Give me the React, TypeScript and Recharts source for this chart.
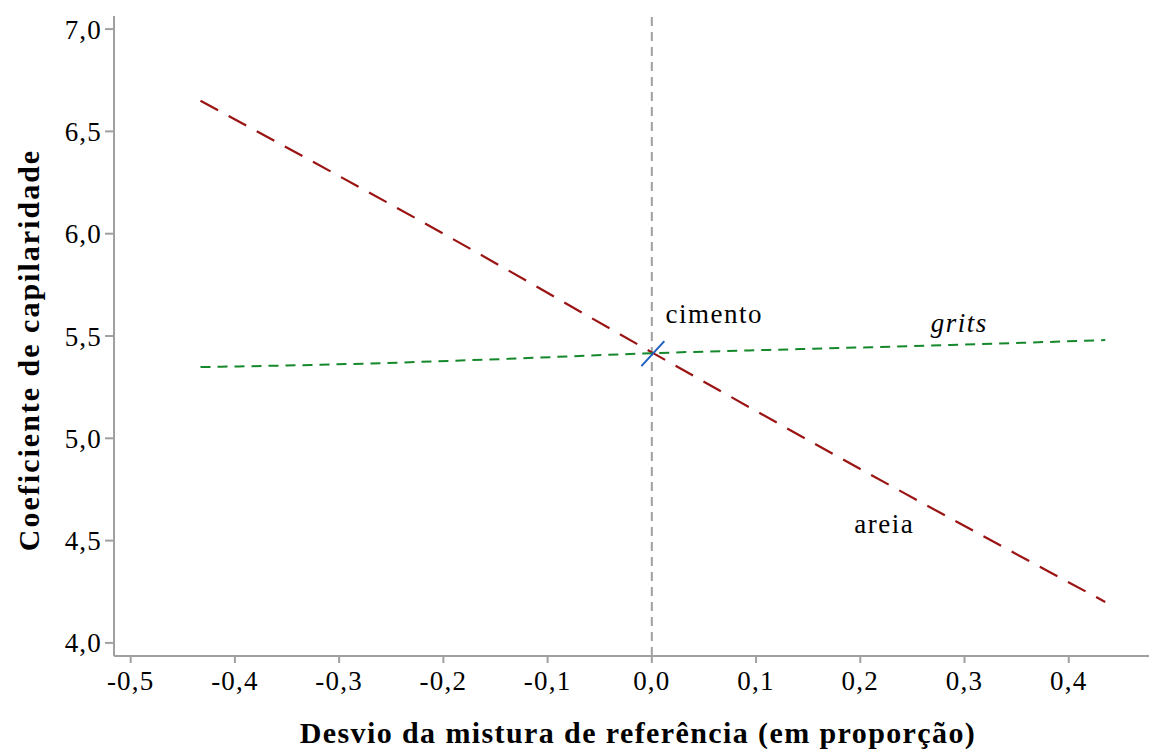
import {
  LineChart, Line, XAxis, YAxis, ReferenceLine, ReferenceDot, Label,
} from 'recharts'

// leituras do gráfico original
const xTicks = [-0.5, -0.4, -0.3, -0.2, -0.1, 0, 0.1, 0.2, 0.3, 0.4]
const yTicks = [4.0, 4.5, 5.0, 5.5, 6.0, 6.5, 7.0]

const areiaX = [-0.433, -0.2, 0, 0.2, 0.435]
const areiaY = [6.65, 6.0, 5.42, 4.85, 4.2]

const gritsX = [-0.433, -0.29, -0.146, 0, 0.142, 0.286, 0.435]
const gritsY = [5.348, 5.363, 5.387, 5.416, 5.436, 5.456, 5.48]

const cimentoX = [-0.01, 0.012]
const cimentoY = [5.353, 5.475]

const labelNames = ['cimento', 'grits', 'areia']
const labelX = [0.06, 0.295, 0.223]
const labelY = [5.612, 5.568, 4.585]

const toPts = (xs: number[], ys: number[]) => xs.map((x, i) => ({ x, y: ys[i] }))
const areia = toPts(areiaX, areiaY)
const grits = toPts(gritsX, gritsY)
const cimento = toPts(cimentoX, cimentoY)

const FONT = '"Liberation Serif", "Times New Roman", serif'
const AXIS = '#a0a0a0'
const fmt = (v: number) => v.toFixed(1).replace('.', ',')

const tickStyle = { fontSize: 27, fill: '#000', fontFamily: FONT, letterSpacing: 1.2 }

function YTitle({ viewBox }: any) {
  const cx = viewBox.x + 28
  const cy = viewBox.y + viewBox.height / 2 + 14
  return (
    <text
      x={cx} y={cy}
      transform={`rotate(-90, ${cx}, ${cy})`}
      textAnchor="middle"
      dominantBaseline="central"
      style={{ fontFamily: FONT, fontSize: 30, fontWeight: 700, letterSpacing: 2 }}
      fill="#000"
    >
      Coeficiente de capilaridade
    </text>
  )
}

function XTitle({ viewBox }: any) {
  return (
    <text
      x={638} y={viewBox.y + viewBox.height - 6}
      textAnchor="middle"
      style={{ fontFamily: FONT, fontSize: 30, fontWeight: 700, letterSpacing: 1.4 }}
      fill="#000"
    >
      Desvio da mistura de referência (em proporção)
    </text>
  )
}

export default function App() {
  return (
    <div style={{ position: 'absolute', left: 0, top: 0, background: '#fff' }}>
      <LineChart width={1149} height={749} margin={{ top: 16, right: 0, bottom: 0, left: 0 }}>
        <XAxis
          dataKey="x"
          type="number"
          domain={[-0.516, 0.477]}
          allowDataOverflow
          ticks={xTicks}
          tickFormatter={fmt}
          tick={tickStyle}
          height={93}
          tickSize={7}
          tickMargin={8}
          axisLine={{ stroke: AXIS, strokeWidth: 2 }}
          tickLine={{ stroke: AXIS, strokeWidth: 2 }}
        >
          <Label content={<XTitle />} />
        </XAxis>
        <XAxis
          xAxisId="top"
          orientation="top"
          type="number"
          domain={[-0.516, 0.477]}
          height={0}
          tick={false}
          tickLine={false}
          axisLine={{ stroke: AXIS, strokeWidth: 2 }}
        />
        <YAxis
          type="number"
          domain={[3.936, 7.064]}
          allowDataOverflow
          ticks={yTicks}
          tickFormatter={fmt}
          tick={tickStyle}
          width={114}
          tickSize={9}
          tickMargin={3}
          axisLine={{ stroke: AXIS, strokeWidth: 2 }}
          tickLine={{ stroke: AXIS, strokeWidth: 2 }}
        >
          <Label content={<YTitle />} />
        </YAxis>
        <ReferenceLine x={0} stroke={AXIS} strokeWidth={2} strokeDasharray="9 6" />
        <Line
          data={areia} dataKey="y" type="monotone"
          stroke="#9b1414" strokeWidth={2.2} strokeDasharray="20 12"
          dot={false} isAnimationActive={false}
        />
        <Line
          data={grits} dataKey="y" type="monotone"
          stroke="#14882a" strokeWidth={2} strokeDasharray="10 7"
          dot={false} isAnimationActive={false}
        />
        <Line
          data={cimento} dataKey="y" type="linear"
          stroke="#1f5fbf" strokeWidth={2} dot={false} isAnimationActive={false}
        />
        {labelNames.map((name, i) => (
          <ReferenceDot
            key={name}
            x={labelX[i]} y={labelY[i]} r={0}
            label={{
              value: name,
              position: 'center',
              fontSize: 27,
              fill: '#000',
              fontFamily: FONT,
              letterSpacing: 1.5,
              fontStyle: name === 'grits' ? 'italic' : 'normal',
            }}
          />
        ))}
      </LineChart>
    </div>
  )
}
